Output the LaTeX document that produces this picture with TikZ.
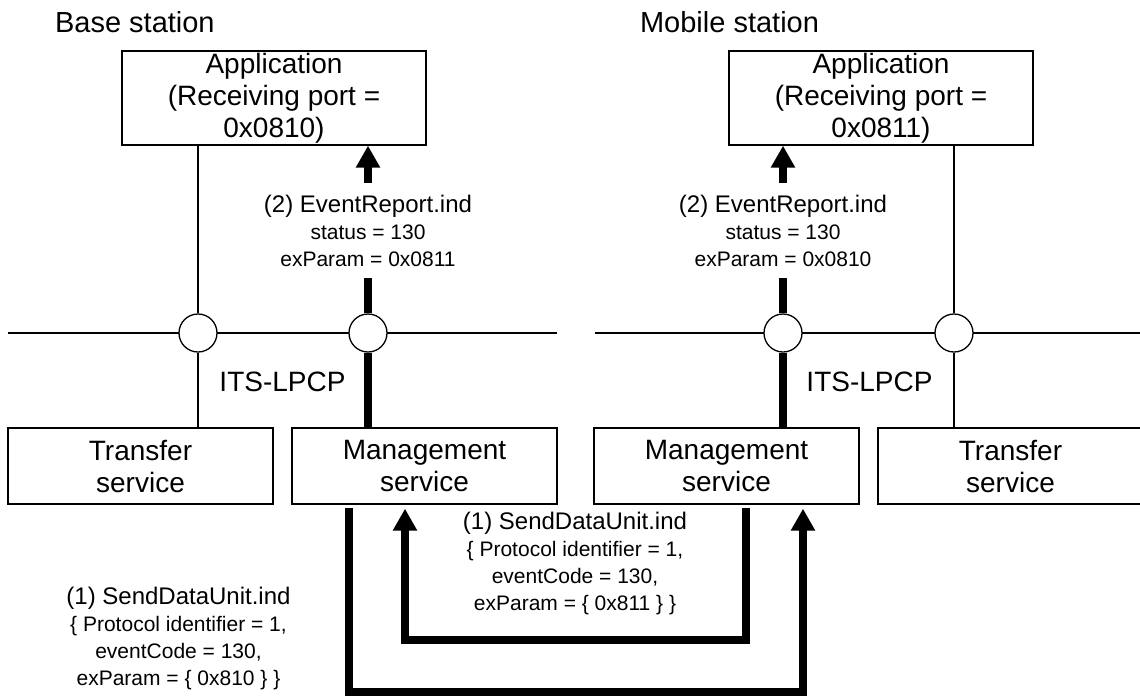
\documentclass[tikz,border=0pt]{standalone}
\usepackage{fontspec}
\setmainfont{Liberation Sans}
\usetikzlibrary{arrows.meta}
\tikzset{
  layerbox/.style={draw,line width=.65pt,align=center,inner sep=0pt,
    font=\fontsize{14}{16}\selectfont},
  sap/.style={circle,draw,fill=white,line width=.65pt,minimum size=19pt,inner sep=0pt},
  busline/.style={line width=.55pt},
  primline/.style={line width=4pt},
  primarrow/.style={line width=4pt,-{Triangle[length=11pt,width=11.5pt]}},
  primlabel/.style={align=center,inner sep=0pt,font=\fontsize{10.5}{13.5}\selectfont},
  toptitle/.style={anchor=base west,font=\fontsize{14.5}{16}\selectfont}
}

\begin{document}
\begin{tikzpicture}[x=.5pt,y=-.5pt]
  \useasboundingbox (0,0) rectangle (1140,697);
  % station titles
  \node[toptitle] (bsTitle) at (48,32) {Base station};
  \node[toptitle] (msTitle) at (633,32) {Mobile station};
  % bus lines (behind the SAP circles)
  \coordinate (bsBusW) at (8,333);
  \coordinate (bsBusE) at (557,333);
  \coordinate (msBusW) at (595,333);
  \coordinate (msBusE) at (1146,333);
  \draw[busline] (bsBusW) -- (bsBusE);
  \draw[busline] (msBusW) -- (msBusE);
  % layers
  \node[layerbox,minimum width=152pt,minimum height=47pt] (bsApp) at (274,98)
       {Application\\(Receiving port =\\0x0810)};
  \node[layerbox,minimum width=152pt,minimum height=47pt] (msApp) at (881,98)
       {Application\\(Receiving port =\\0x0811)};
  \node[layerbox,minimum width=132.5pt,minimum height=38pt] (bsTrans) at (140.5,466)
       {Transfer\\service};
  \node[layerbox,minimum width=132.5pt,minimum height=38pt] (bsMgmt) at (424.5,466)
       {Management\\service};
  \node[layerbox,minimum width=132.5pt,minimum height=38pt] (msMgmt) at (726.5,466)
       {Management\\service};
  \node[layerbox,minimum width=132.5pt,minimum height=38pt] (msTrans) at (1010.5,466)
       {Transfer\\service};
  % service access points
  \node[sap] (bsSapT) at (198,333) {};
  \node[sap] (bsSapM) at (368,333) {};
  \node[sap] (msSapM) at (783,333) {};
  \node[sap] (msSapT) at (954,333) {};
  \node[font=\fontsize{14}{16}\selectfont] (bsProto) at (282.5,382) {ITS-LPCP};
  \node[font=\fontsize{14}{16}\selectfont] (msProto) at (869.5,382) {ITS-LPCP};
  % transfer path
  \draw[busline] (bsSapT.north) -- (bsApp.south -| bsSapT);
  \draw[busline] (bsSapT.south) -- (bsTrans.north -| bsSapT);
  \draw[busline] (msSapT.north) -- (msApp.south -| msSapT);
  \draw[busline] (msSapT.south) -- (msTrans.north -| msSapT);
  % (2) event reports
  \node[primlabel,minimum height=47.5pt] (bsEvt) at (368,230.5)
       {{\fontsize{12}{13.5}\selectfont (2) EventReport.ind}\\status = 130\\exParam = 0x0811};
  \node[primlabel,minimum height=47.5pt] (msEvt) at (783,230.5)
       {{\fontsize{12}{13.5}\selectfont (2) EventReport.ind}\\status = 130\\exParam = 0x0810};
  \draw[primline] (bsMgmt.north -| bsSapM) -- (bsSapM.south);
  \draw[primline] (bsSapM.north) -- (bsEvt.south);
  \draw[primarrow] (bsEvt.north) -- (bsApp.south -| bsEvt);
  \draw[primline] (msMgmt.north -| msSapM) -- (msSapM.south);
  \draw[primline] (msSapM.north) -- (msEvt.south);
  \draw[primarrow] (msEvt.north) -- (msApp.south -| msEvt);
  % (1) send data unit loops
  \coordinate (outerW) at (349,692);
  \coordinate (outerE) at (803,692);
  \coordinate (innerE) at (746,640);
  \coordinate (innerW) at (405,640);
  \draw[primarrow,shorten <=1.5pt,shorten >=2pt]
       (bsMgmt.south -| outerW) -- (outerW) -- (outerE) -- (msMgmt.south -| outerE);
  \draw[primarrow,shorten <=1.5pt,shorten >=2pt]
       (msMgmt.south -| innerE) -- (innerE) -- (innerW) -- (bsMgmt.south -| innerW);
  \node[primlabel] (bsSdu) at (178.5,638)
       {{\fontsize{12}{14.5}\selectfont (1) SendDataUnit.ind}\\\{ Protocol identifier = 1,\\eventCode = 130,\\exParam = \{ 0x810 \} \}};
  \node[primlabel] (msSdu) at (575,563)
       {{\fontsize{12}{14.5}\selectfont (1) SendDataUnit.ind}\\\{ Protocol identifier = 1,\\eventCode = 130,\\exParam = \{ 0x811 \} \}};
\end{tikzpicture}
\end{document}
